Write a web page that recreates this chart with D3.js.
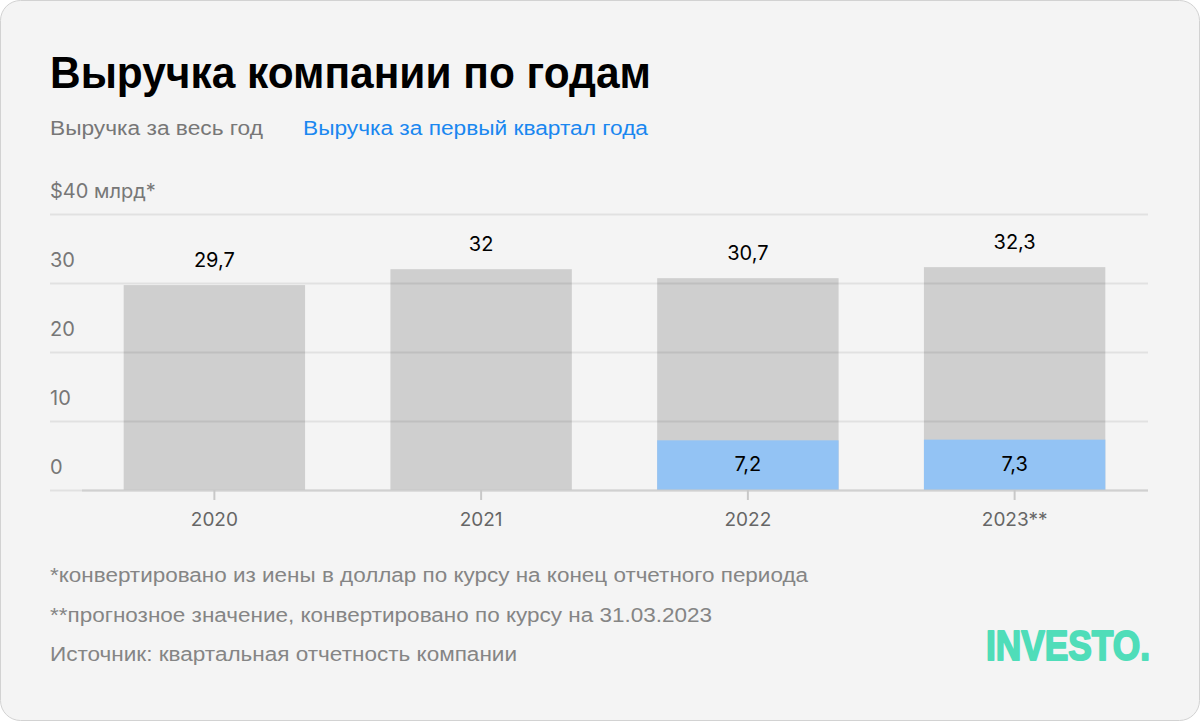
<!DOCTYPE html>
<html lang="ru">
<head>
<meta charset="utf-8">
<script src="https://cdn.jsdelivr.net/npm/d3@7"></script>
<style>
  body { margin: 0; background: #fff; }
  svg { display: block; }
  .sans { font-family: "Liberation Sans", Arial, sans-serif; }
  .num { font-family: Inter, "Noto Sans", sans-serif; }
</style>
</head>
<body>
<svg id="chart" width="1200" height="721"></svg>
<script>
const years = ["2020", "2021", "2022", "2023**"];
const fullYear = [29.7, 32, 30.7, 32.3];
const firstQuarter = [null, null, 7.2, 7.3];
const yTicks = [0, 10, 20, 30, 40];
const yTopLabel = "$40 млрд*";

const title = "Выручка компании по годам";
const legendItems = [
  { label: "Выручка за весь год", color: "#777777", x: 50, w: 213 },
  { label: "Выручка за первый квартал года", color: "#1a87f0", x: 303, w: 345 }
];
const notes = [
  { text: "*конвертировано из иены в доллар по курсу на конец отчетного периода", w: 758 },
  { text: "**прогнозное значение, конвертировано по курсу на 31.03.2023", w: 662 },
  { text: "Источник: квартальная отчетность компании", w: 467 }
];

const fmt = v => String(v).replace(".", ",");

const svg = d3.select("#chart");

// card
svg.append("rect")
  .attr("x", 0.5).attr("y", 0.5)
  .attr("width", 1199).attr("height", 720)
  .attr("rx", 20)
  .attr("fill", "#f4f4f4")
  .attr("stroke", "#d2d2d2");

svg.append("text")
  .attr("class", "sans")
  .attr("x", 50).attr("y", 88)
  .attr("font-size", 44).attr("font-weight", 700)
  .attr("fill", "#000")
  .attr("textLength", 601).attr("lengthAdjust", "spacingAndGlyphs")
  .text(title);

svg.selectAll(".legend")
  .data(legendItems)
  .enter()
  .append("text")
  .attr("class", "sans legend")
  .attr("x", d => d.x).attr("y", 135)
  .attr("font-size", 20)
  .attr("fill", d => d.color)
  .attr("textLength", d => d.w).attr("lengthAdjust", "spacingAndGlyphs")
  .text(d => d.label);

const x = d3.scaleBand()
  .domain(years)
  .range([81, 1148])
  .paddingInner(0.32)
  .paddingOuter(0.16);

const y = d3.scaleLinear()
  .domain([0, 40])
  .range([490, 214]);

const rows = years.map((yr, i) => ({ year: yr, full: fullYear[i], q1: firstQuarter[i] }));

// bars
svg.selectAll(".bar")
  .data(rows)
  .enter()
  .append("rect")
  .attr("class", "bar")
  .attr("x", d => x(d.year))
  .attr("y", d => y(d.full))
  .attr("width", x.bandwidth())
  .attr("height", d => y(0) - y(d.full))
  .attr("fill", "#cfcfcf");

svg.selectAll(".q1")
  .data(rows.filter(d => d.q1 != null))
  .enter()
  .append("rect")
  .attr("class", "q1")
  .attr("x", d => x(d.year))
  .attr("y", d => y(d.q1))
  .attr("width", x.bandwidth())
  .attr("height", d => y(0) - y(d.q1))
  .attr("fill", "#93c3f4");

// grid lines (over the bars, semi transparent)
svg.selectAll(".grid")
  .data(yTicks)
  .enter()
  .append("line")
  .attr("class", "grid")
  .attr("x1", 50).attr("x2", 1148)
  .attr("y1", d => y(d) + 0.5).attr("y2", d => y(d) + 0.5)
  .attr("stroke", "rgba(0,0,0,0.075)")
  .attr("stroke-width", 2);

// x axis
const xAxis = svg.append("g")
  .attr("transform", `translate(0, ${y(0)})`)
  .call(d3.axisBottom(x).tickSize(10).tickPadding(10));
xAxis.select(".domain").attr("stroke", "#d0d0d0").attr("stroke-width", 2)
  .attr("d", "M82,0.5H1148");
xAxis.selectAll(".tick line").attr("stroke", "#c8c8c8").attr("stroke-width", 2);
xAxis.selectAll(".tick text")
  .attr("class", "num")
  .attr("font-size", 19)
  .attr("fill", "#666")
  .attr("dy", "0.85em");

// y tick labels
svg.selectAll(".ylab")
  .data(yTicks)
  .enter()
  .append("text")
  .attr("class", "num ylab")
  .attr("x", 50)
  .attr("y", d => y(d) - 16)
  .attr("font-size", 20)
  .attr("fill", "#777")
  .text(d => d === 40 ? yTopLabel : d);

// value labels
svg.selectAll(".vlab")
  .data(rows)
  .enter()
  .append("text")
  .attr("class", "num vlab")
  .attr("x", d => x(d.year) + x.bandwidth() / 2)
  .attr("y", d => y(d.full) - 18)
  .attr("text-anchor", "middle")
  .attr("font-size", 20)
  .attr("fill", "#000")
  .text(d => fmt(d.full));

svg.selectAll(".qlab")
  .data(rows.filter(d => d.q1 != null))
  .enter()
  .append("text")
  .attr("class", "num qlab")
  .attr("x", d => x(d.year) + x.bandwidth() / 2)
  .attr("y", d => (y(d.q1) + y(0)) / 2 + 6)
  .attr("text-anchor", "middle")
  .attr("font-size", 20)
  .attr("fill", "#000")
  .text(d => fmt(d.q1));

// notes
svg.selectAll(".note")
  .data(notes)
  .enter()
  .append("text")
  .attr("class", "sans note")
  .attr("x", 50)
  .attr("y", (d, i) => 582 + i * 39.5)
  .attr("font-size", 20)
  .attr("fill", "#858585")
  .attr("textLength", d => d.w).attr("lengthAdjust", "spacingAndGlyphs")
  .text(d => d.text);

// logo
svg.append("text")
  .attr("class", "sans")
  .attr("x", 986).attr("y", 660)
  .attr("font-size", 43).attr("font-weight", 700)
  .attr("fill", "#4fddb9")
  .attr("stroke", "#4fddb9").attr("stroke-width", 2).attr("stroke-linejoin", "round")
  .attr("textLength", 164).attr("lengthAdjust", "spacingAndGlyphs")
  .text("INVESTO.");
</script>
</body>
</html>
